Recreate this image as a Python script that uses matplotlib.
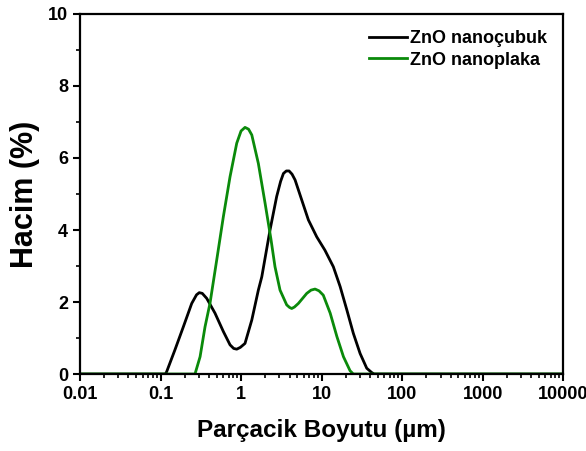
import matplotlib
matplotlib.use('Agg')
import matplotlib.pyplot as plt
import matplotlib.ticker as ticker

plt.rcParams['font.family'] = ['Liberation Sans', 'DejaVu Sans']
plt.rcParams['font.weight'] = 'bold'

# ZnO nanocubuk (black)
rod_x = [0.01, 0.115, 0.119, 0.151, 0.192, 0.244, 0.28, 0.303, 0.33, 0.375, 0.475, 0.603,
         0.73, 0.81, 0.884, 0.98, 1.12, 1.36, 1.64, 1.81, 2.29, 2.77, 3.1, 3.36, 3.65, 3.95,
         4.3, 4.69, 5.68, 6.86, 8.71, 11.0, 14.0, 17.0, 20.6, 24.8, 30.1, 36.4, 42.0, 45, 10000]
rod_y = [0, 0, 0.06, 0.67, 1.31, 1.96, 2.2, 2.26, 2.24, 2.10, 1.69, 1.18,
         0.81, 0.71, 0.69, 0.74, 0.85, 1.5, 2.33, 2.70, 4.0, 4.93, 5.35, 5.57, 5.64, 5.64,
         5.55, 5.39, 4.83, 4.28, 3.81, 3.44, 2.98, 2.43, 1.78, 1.13, 0.57, 0.16, 0.04, 0, 0]

# ZnO nanoplaka (green)
plate_x = [0.01, 0.268, 0.31, 0.357, 0.412, 0.499, 0.603, 0.73, 0.884, 1.0, 1.12, 1.24,
           1.36, 1.64, 1.99, 2.35, 2.64, 3.05, 3.69, 4.0, 4.26, 4.6, 5.15, 6.55, 7.4, 8.3,
           9.3, 10.5, 12.8, 15.5, 18.7, 22.6, 24.8, 10000]
plate_y = [0, 0, 0.48, 1.31, 1.97, 3.17, 4.37, 5.48, 6.41, 6.75, 6.85, 6.8,
           6.64, 5.85, 4.74, 3.75, 2.98, 2.33, 1.92, 1.85, 1.82, 1.86, 1.96, 2.24, 2.33, 2.36,
           2.31, 2.19, 1.69, 1.04, 0.48, 0.09, 0, 0]

xticks = [0.01, 0.1, 1, 10, 100, 1000, 10000]
xticklabels = ['0.01', '0.1', '1', '10', '100', '1000', '10000']

fig = plt.figure(figsize=(5.86, 4.51), dpi=100)
ax = fig.add_axes([0.1365, 0.1707, 0.8245, 0.7983])

ax.plot(rod_x, rod_y, color='black', lw=2.0, solid_joinstyle='round', label='ZnO nanoçubuk')
ax.plot(plate_x, plate_y, color='#0a8a0a', lw=2.0, solid_joinstyle='round', label='ZnO nanoplaka')

ax.set_xscale('log')
ax.set_xlim(0.01, 10000)
ax.set_ylim(0, 10)
ax.set_xticks(xticks)
ax.set_xticklabels(xticklabels)
ax.xaxis.set_minor_locator(ticker.LogLocator(base=10, subs=range(2, 10), numticks=20))
ax.xaxis.set_minor_formatter(ticker.NullFormatter())
ax.set_yticks([0, 2, 4, 6, 8, 10])
ax.yaxis.set_minor_locator(ticker.MultipleLocator(1))

for s in ax.spines.values():
    s.set_linewidth(1.6)
ax.tick_params(which='major', direction='out', length=5, width=1.5, labelsize=13)
ax.tick_params(which='minor', direction='out', length=3, width=1.2)

ax.set_xlabel('Parçacik Boyutu (µm)', fontsize=17.5, fontweight='bold', labelpad=12)
ax.set_ylabel('Hacim (%)', fontsize=22, fontweight='bold', labelpad=6)

ax.legend(loc='upper right', frameon=False, fontsize=13, handlelength=2.1,
          handletextpad=0.15, labelspacing=0.25, borderaxespad=0.5)

plt.savefig('out.png')
